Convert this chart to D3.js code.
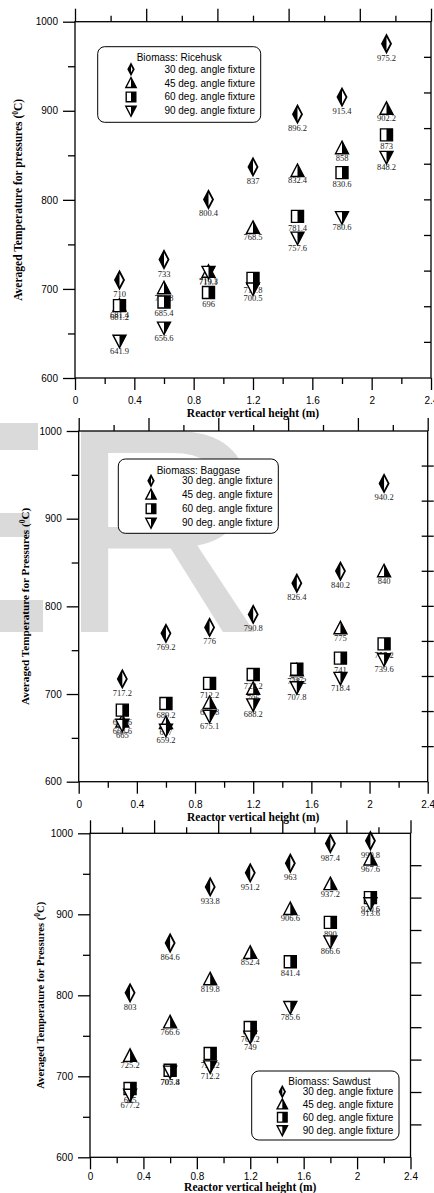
<!DOCTYPE html>
<html>
<head>
<meta charset="utf-8">
<script src="https://cdn.jsdelivr.net/npm/d3@7/dist/d3.min.js"></script>
<style>
  body { margin: 0; background: #fff; }
  svg { display: block; }
</style>
</head>
<body>
<div id="chart"></div>
<script>
// Reactor heights (x) shared by all series
var heights = [0.3, 0.6, 0.9, 1.2, 1.5, 1.8, 2.1];
var fixtures = ["30 deg. angle fixture", "45 deg. angle fixture", "60 deg. angle fixture", "90 deg. angle fixture"];
var markerTypes = ["diamond", "triangleUp", "square", "triangleDown"];

// Averaged temperatures
var ricehusk30 = [710, 733, 800.4, 837, 896.2, 915.4, 975.2];
var ricehusk45 = [681.4, 700.8, 719.3, 768.5, 832.4, 858, 902.2];
var ricehusk60 = [681.2, 685.4, 696, 711.8, 781.4, 830.6, 873];
var ricehusk90 = [641.9, 656.6, 719.1, 700.5, 757.6, 780.6, 848.2];

var baggase30 = [717.2, 769.2, 776, 790.8, 826.4, 840.2, 940.2];
var baggase45 = [668.6, 667, 689.8, 706, 727, 775, 840];
var baggase60 = [681.6, 689.2, 712.2, 722.2, 728.2, 741, 757.2];
var baggase90 = [665, 659.2, 675.1, 688.2, 707.8, 718.4, 739.6];

var sawdust30 = [803, 864.6, 933.8, 951.2, 963, 987.4, 990.8];
var sawdust45 = [725.2, 766.6, 819.8, 852.4, 906.6, 937.2, 967.6];
var sawdust60 = [685, 707.4, 728.2, 760.2, 841.4, 890, 920.6];
var sawdust90 = [677.2, 705.8, 712.2, 749, 785.6, 866.6, 913.6];

// Axis ticks
var xTicks = [0, 0.4, 0.8, 1.2, 1.6, 2, 2.4];
var xMinorTicks = [0.2, 0.6, 1, 1.4, 1.8, 2.2];
var topMajorTicks = [0, 0.48, 0.96, 1.44, 1.92, 2.4];
var topMinorTicks = [0.24, 0.72, 1.2, 1.68, 2.16];
var yTicks = [600, 700, 800, 900, 1000];
var yMinorTicks = [650, 750, 850, 950];
var rightTicks = [640, 680, 720, 760, 800, 840, 880, 920, 960];

// Layout of the three stacked panels
var panels = [
  {
    name: "Biomass: Ricehusk",
    series: [ricehusk30, ricehusk45, ricehusk60, ricehusk90],
    left: 75, right: 431, top: 21.7, bottom: 378,
    yTitle: "Averaged Temperature for pressures (", yTitleX: 18, yTitleSize: 11.5,
    xLabelPad: 7, xTitleY: 417,
    rightTick: [-7, 0],
    legend: {x: 97.7, y: 46.7, w: 163, h: 75.6, titleX: 136.7, titleY: 57.3, markerX: 131, textX: 255, rowY: 69.3, rowStep: 13.8}
  },
  {
    name: "Biomass: Baggase",
    series: [baggase30, baggase45, baggase60, baggase90],
    left: 78.7, right: 427.7, top: 431, bottom: 781.7,
    yTitle: "Averaged Temperature for Pressures (", yTitleX: 25, yTitleSize: 11.2,
    xLabelPad: 7, xTitleY: 821,
    rightTick: [-6, 6],
    legend: {x: 118.3, y: 459, w: 160, h: 74.3, titleX: 156.7, titleY: 470.7, markerX: 151, textX: 272.7, rowY: 480.7, rowStep: 14}
  },
  {
    name: "Biomass: Sawdust",
    series: [sawdust30, sawdust45, sawdust60, sawdust90],
    left: 90, right: 410.5, top: 833.3, bottom: 1157.3,
    yTitle: "Averaged Temperature for Pressures (", yTitleX: 40, yTitleSize: 10.6,
    xLabelPad: 4, xTitleY: 1191,
    rightTick: [0, 11],
    legend: {x: 251.7, y: 1071, w: 147.3, h: 69, titleX: 288.3, titleY: 1081.7, markerX: 282.3, textX: 393.3, rowY: 1091.7, rowStep: 12.8}
  }
];

// Marker outlines and their filled halves, in marker units
var shapes = {
  diamond:      {outline: [[0,-8.5],[4.5,0],[0,8.5],[-4.5,0]], half: [[0,-8.5],[-4.5,0],[0,8.5]], labelDy: 17},
  triangleUp:   {outline: [[0,-7],[6.5,5.5],[-6.5,5.5]],       half: [[0,-7],[6.5,5.5],[0,5.5]],    labelDy: 12.5},
  square:       {outline: [[-6,-6],[6,-6],[6,6],[-6,6]],       half: [[0,-6],[6,-6],[6,6],[0,6]],   labelDy: 14.5},
  triangleDown: {outline: [[-6.5,-5.5],[6.5,-5.5],[0,7]],      half: [[0,-5.5],[6.5,-5.5],[0,7]],   labelDy: 13}
};

var serif = "'Liberation Serif', 'Times New Roman', serif";
var sans = "'Liberation Sans', Arial, sans-serif";

var svg = d3.select("#chart")
  .append("svg")
  .attr("width", 434)
  .attr("height", 1193);

var polygonPath = d3.line().curve(d3.curveLinearClosed);

function drawMarker(g, type, k) {
    var s = shapes[type];
    var scalePts = function(pts) { return pts.map(function(q) { return [q[0] * k, q[1] * k]; }); };
    g.append("path").attr("d", polygonPath(scalePts(s.outline))).attr("fill", "#fff");
    g.append("path").attr("d", polygonPath(scalePts(s.half))).attr("fill", "#000");
    g.append("path").attr("d", polygonPath(scalePts(s.outline)))
      .attr("fill", "none").attr("stroke", "#000")
      .attr("stroke-width", type === "diamond" ? 1.8 : 1.4)
      .attr("stroke-linejoin", "miter");
}

// Watermark behind the middle panel
var wm = svg.append("g").attr("fill", "#dadada");
wm.append("rect").attr("x", 0).attr("y", 423).attr("width", 38).attr("height", 27);
wm.append("rect").attr("x", 0).attr("y", 513).attr("width", 30).attr("height", 24);
wm.append("rect").attr("x", 0).attr("y", 600).attr("width", 43).attr("height", 32);
wm.append("text")
  .attr("x", 57).attr("y", 632)
  .attr("font-family", sans)
  .attr("font-size", 292)
  .text("R");

panels.forEach(function(p) {

    var x = d3.scaleLinear().domain([0, 2.4]).range([p.left, p.right]);
    var y = d3.scaleLinear().domain([600, 1000]).range([p.bottom, p.top]);
    var g = svg.append("g");

    function styleAxis(sel) {
        sel.select(".domain").remove();
        sel.selectAll("line").attr("stroke", "#000").attr("stroke-width", 1.3);
        sel.selectAll("text").attr("font-family", sans).attr("font-size", 10).attr("fill", "#000");
    }

    // Bottom axis with labels and minor ticks
    g.append("g").attr("transform", "translate(0," + p.bottom + ")")
      .call(d3.axisBottom(x).tickValues(xTicks).tickSize(12).tickPadding(p.xLabelPad).tickFormat(d3.format("")))
      .call(styleAxis);
    g.append("g").attr("transform", "translate(0," + p.bottom + ")")
      .call(d3.axisBottom(x).tickValues(xMinorTicks).tickSize(6).tickFormat(""))
      .call(styleAxis);

    // Top axis, ticks only
    g.append("g").attr("transform", "translate(0," + p.top + ")")
      .call(d3.axisTop(x).tickValues(topMajorTicks).tickSize(13).tickFormat(""))
      .call(styleAxis);
    g.append("g").attr("transform", "translate(0," + p.top + ")")
      .call(d3.axisTop(x).tickValues(topMinorTicks).tickSize(6).tickFormat(""))
      .call(styleAxis);

    // Left axis
    g.append("g").attr("transform", "translate(" + p.left + ",0)")
      .call(d3.axisLeft(y).tickValues(yTicks).tickSize(12).tickPadding(5).tickFormat(d3.format("d")))
      .call(styleAxis);
    g.append("g").attr("transform", "translate(" + p.left + ",0)")
      .call(d3.axisLeft(y).tickValues(yMinorTicks).tickSize(7).tickFormat(""))
      .call(styleAxis);

    // Right axis ticks
    g.append("g").selectAll("line")
      .data(rightTicks)
      .enter()
      .append("line")
      .attr("x1", p.right + p.rightTick[0])
      .attr("x2", p.right + p.rightTick[1])
      .attr("y1", function(d) { return y(d); })
      .attr("y2", function(d) { return y(d); })
      .attr("stroke", "#000").attr("stroke-width", 1.3);

    // Frame
    g.append("rect")
      .attr("x", p.left).attr("y", p.top)
      .attr("width", p.right - p.left).attr("height", p.bottom - p.top)
      .attr("fill", "none").attr("stroke", "#000").attr("stroke-width", 1.3);

    // Axis titles
    g.append("text")
      .attr("x", (p.left + p.right) / 2)
      .attr("y", p.xTitleY)
      .attr("text-anchor", "middle")
      .attr("font-family", serif).attr("font-weight", "bold").attr("font-size", 11.5)
      .text("Reactor vertical height (m)");

    var yt = g.append("text")
      .attr("transform", "translate(" + p.yTitleX + "," + ((p.top + p.bottom) / 2) + ") rotate(-90)")
      .attr("text-anchor", "middle")
      .attr("dy", "0.35em")
      .attr("font-family", serif).attr("font-weight", "bold").attr("font-size", p.yTitleSize);
    yt.append("tspan").text(p.yTitle);
    yt.append("tspan").attr("font-size", 7.5).attr("dy", -4).text("0");
    yt.append("tspan").attr("dy", 4).text("C)");

    // Data points and value labels
    p.series.forEach(function(values, si) {
        var type = markerTypes[si];
        var pts = g.append("g").selectAll("g")
          .data(values)
          .enter()
          .append("g")
          .attr("transform", function(d, i) { return "translate(" + x(heights[i]) + "," + y(d) + ")"; });
        pts.each(function() { drawMarker(d3.select(this), type, 1); });
        pts.append("text")
          .attr("y", shapes[type].labelDy)
          .attr("text-anchor", "middle")
          .attr("font-family", serif).attr("font-size", 8.5)
          .attr("fill", "#222")
          .text(function(d) { return String(d); });
    });

    // Legend
    var L = p.legend;
    var lg = g.append("g");
    lg.append("rect")
      .attr("x", L.x).attr("y", L.y).attr("width", L.w).attr("height", L.h)
      .attr("rx", 7).attr("ry", 7)
      .attr("fill", "#fff").attr("stroke", "#000").attr("stroke-width", 1);
    lg.append("text")
      .attr("x", L.titleX).attr("y", L.titleY).attr("dy", "0.35em")
      .attr("font-family", sans).attr("font-size", 10)
      .text(p.name);
    fixtures.forEach(function(f, i) {
        var ry = L.rowY + i * L.rowStep;
        var mg = lg.append("g").attr("transform", "translate(" + L.markerX + "," + ry + ")");
        drawMarker(mg, markerTypes[i], markerTypes[i] === "diamond" ? 0.6 : 0.8);
        lg.append("text")
          .attr("x", L.textX).attr("y", ry).attr("dy", "0.35em")
          .attr("text-anchor", "end")
          .attr("font-family", sans).attr("font-size", 10)
          .text(f);
    });
});
</script>
</body>
</html>
